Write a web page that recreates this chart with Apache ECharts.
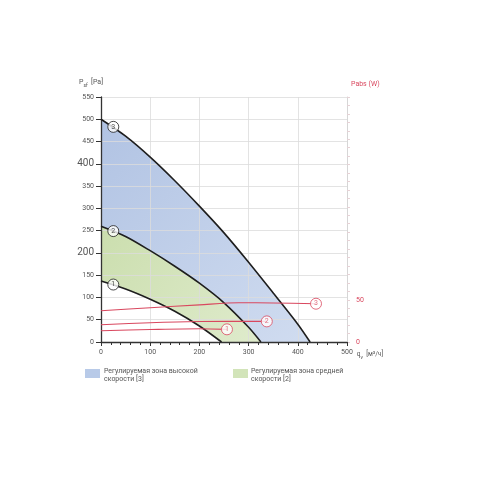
<!DOCTYPE html>
<html>
<head>
<meta charset="utf-8">
<script src="https://cdn.jsdelivr.net/npm/echarts@6/dist/echarts.min.js"></script>
<style>
  html, body { margin: 0; padding: 0; background: #fff; }
  #chart { width: 500px; height: 500px; }
</style>
</head>
<body>
<div id="chart"></div>
<script>
// static pressure curves, q [m3/h] -> Psf [Pa]
const curve3 = [[0, 500], [50, 462], [100, 415], [150, 362], [200, 305], [250, 245], [300, 179], [350, 110], [400, 40], [425, 0]];
const curve2 = [[0, 260], [50, 237], [100, 205], [150, 170], [200, 132], [250, 88], [300, 33], [325, 0]];
const curve1 = [[0, 137], [50, 119], [100, 96], [150, 69], [200, 36], [245, 0]];

// absorbed power, q -> Pabs [W]
const power3 = [[0, 37], [100, 40.5], [200, 44], [280, 46.5], [350, 46.2], [437, 45.3]];
const power2 = [[0, 20.5], [100, 22.8], [200, 24.3], [337, 24.4]];
const power1 = [[0, 13.4], [100, 14.8], [200, 15.7], [256, 15]];

// circled speed numbers
const curveMarks = [[25, 483, '3'], [25, 249, '2'], [25, 129, '1']];
const powerMarks = [[437, 45.3, '3'], [337, 24.4, '2'], [256, 15, '1']];

const xTicks = [0, 100, 200, 300, 400, 500];
const bigYLabels = [200, 400];
const rightLabels = [0, 50];

const legendItems = ['Регулируемая зона высокой\nскорости [3]', 'Регулируемая зона средней\nскорости [2]'];

const font = 'Roboto';
const grey = '#555';
const red = '#d9485f';

const chart = echarts.init(document.getElementById('chart'));

const blueFill = new echarts.graphic.LinearGradient(0, 0, 1, 1, [
  { offset: 0, color: '#b1c3e3' },
  { offset: 1, color: '#d0dcf0' }
]);
const greenFill = new echarts.graphic.LinearGradient(0, 0, 1, 1, [
  { offset: 0, color: '#cbdeae' },
  { offset: 1, color: '#dfebcc' }
]);

function fillSeries(data, color) {
  return {
    type: 'line', data: data, smooth: 0.3, symbol: 'none', z: 0,
    lineStyle: { width: 0 }, areaStyle: { color: color, opacity: 1 }, silent: true
  };
}
function curveSeries(data) {
  return {
    type: 'line', data: data, smooth: 0.3, symbol: 'none', z: 5,
    lineStyle: { color: '#1e1e1e', width: 1.6 }
  };
}
function powerSeries(data) {
  return {
    type: 'line', data: data, smooth: 0.3, symbol: 'none', z: 5, yAxisIndex: 1,
    lineStyle: { color: red, width: 1.1 }
  };
}
function markSeries(data, color, axis) {
  return {
    type: 'scatter', yAxisIndex: axis, z: 8,
    data: data.map(d => ({ value: [d[0], d[1]], name: d[2] })),
    symbol: 'circle', symbolSize: 11,
    itemStyle: { color: '#fff', borderColor: color, borderWidth: 1 },
    label: {
      show: true, position: 'inside', formatter: p => p.name,
      color: color, fontSize: 7, fontFamily: font
    }
  };
}

chart.setOption({
  animation: false,
  grid: { left: 101, right: 153, top: 97, bottom: 158 },
  xAxis: {
    type: 'value', min: 0, max: 500, interval: 100, z: 3,
    axisLine: { lineStyle: { color: '#333', width: 1.3 } },
    axisTick: { length: 4, lineStyle: { color: '#333' } },
    minorTick: { show: true, splitNumber: 5, length: 3, lineStyle: { color: '#333' } },
    axisLabel: { color: grey, fontSize: 7, fontFamily: font, margin: 7,
      customValues: xTicks },
    splitLine: { show: true, lineStyle: { color: '#dcdcdc', width: 0.8 } },
    name: '{q|q}{s|v} {q|[м³/ч]}', nameLocation: 'end', nameGap: 8,
    nameTextStyle: { verticalAlign: 'top', padding: [6, 0, 0, 0],
      rich: { q: { fontSize: 6.5, color: grey, fontFamily: font },
              s: { fontSize: 5, color: grey, fontFamily: font, verticalAlign: 'bottom' } } }
  },
  yAxis: [{
    type: 'value', min: 0, max: 550, interval: 50, z: 3,
    axisLine: { show: true, lineStyle: { color: '#333', width: 1.3 } },
    axisTick: { show: true, length: 5, lineStyle: { color: '#333' } },
    axisLabel: {
      fontFamily: font, margin: 7,
      formatter: v => bigYLabels.includes(v) ? '{b|' + v + '}' : '{s|' + v + '}',
      rich: { s: { fontSize: 7, color: grey, fontFamily: font },
              b: { fontSize: 10, color: grey, fontFamily: font } }
    },
    splitLine: { show: true, lineStyle: { color: '#dcdcdc', width: 0.8 } },
    name: '{p|P}{s|sf} {p|[Pa]}', nameLocation: 'end', nameGap: 9,
    nameTextStyle: { align: 'right', padding: [0, -2, 0, 0],
      rich: { p: { fontSize: 7, color: grey, fontFamily: font },
              s: { fontSize: 5, color: grey, fontFamily: font, verticalAlign: 'bottom' } } }
  }, {
    type: 'value', min: 0, max: 290, interval: 10, position: 'right', z: 3,
    axisLine: { show: true, lineStyle: { color: '#d6d6d6', width: 1 } },
    axisTick: { show: true, length: 3, lineStyle: { color: '#e6d2d6' } },
    axisLabel: { color: red, fontSize: 7, fontFamily: font, margin: 9,
      formatter: v => rightLabels.includes(v) ? String(v) : '' },
    splitLine: { show: false },
    name: 'Pabs (W)', nameLocation: 'end', nameGap: 9,
    nameTextStyle: { color: red, fontSize: 7, fontFamily: font, align: 'left', padding: [0, 0, 0, 4] }
  }],
  series: [
    fillSeries(curve3, blueFill),
    fillSeries(curve2, greenFill),
    fillSeries(curve1, '#ffffff'),
    curveSeries(curve3),
    curveSeries(curve2),
    curveSeries(curve1),
    powerSeries(power3),
    powerSeries(power2),
    powerSeries(power1),
    markSeries(curveMarks, '#1e1e1e', 0),
    markSeries(powerMarks, red, 1)
  ],
  graphic: [
    { type: 'rect', left: 85, top: 369, shape: { width: 15, height: 9 }, style: { fill: '#b8cae8' } },
    { type: 'text', left: 104, top: 367, style: { text: legendItems[0], fill: grey, fontSize: 7, fontFamily: font, lineHeight: 8 } },
    { type: 'rect', left: 233, top: 369, shape: { width: 15, height: 9 }, style: { fill: '#d2e4b9' } },
    { type: 'text', left: 251, top: 367, style: { text: legendItems[1], fill: grey, fontSize: 7, fontFamily: font, lineHeight: 8 } }
  ]
});
</script>
</body>
</html>
